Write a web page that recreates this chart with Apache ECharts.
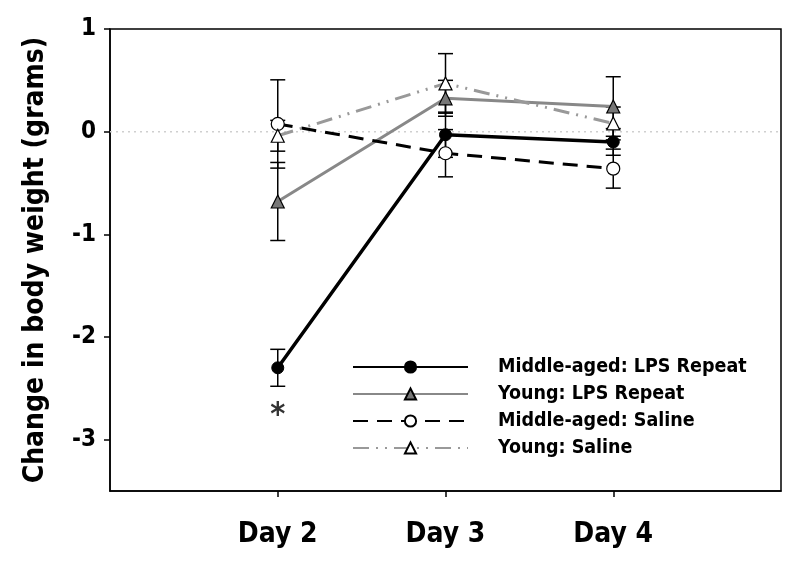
<!DOCTYPE html>
<html>
<head>
<meta charset="utf-8">
<script src="https://cdn.jsdelivr.net/npm/echarts@6/dist/echarts.min.js"></script>
<style>
html,body{margin:0;padding:0;background:#fff;}
#chart{width:800px;height:563px;}
</style>
</head>
<body>
<div id="chart"></div>
<script>
// ---- data ----
var days = [2, 3, 4];
var dayLabels = ['Day 2', 'Day 3', 'Day 4'];
var yTicks = [-3, -2, -1, 0, 1];
var xRange = [1, 5];
var zeroLevel = 0;

var midLPS = [-2.30, -0.03, -0.10];
var midLPSErr = [0.18, 0.22, 0.13];

var youngLPS = [-0.68, 0.325, 0.245];
var youngLPSErr = [0.38, 0.175, 0.29];

var midSaline = [0.075, -0.21, -0.36];
var midSalineErr = [0.43, 0.23, 0.19];

var youngSaline = [-0.04, 0.47, 0.08];
var youngSalineErr = [0.15, 0.29, 0.16];

var seriesNames = ['Middle-aged: LPS Repeat', 'Young: LPS Repeat', 'Middle-aged: Saline', 'Young: Saline'];

var starPoint = [2, -2.77];
var starText = '*';

// ---- build chart ----
var FONT = '"DejaVu Sans Condensed", "DejaVu Sans", sans-serif';
function pts(vals) { return days.map(function (d, i) { return [d, vals[i]]; }); }
function errData(vals, errs) { return days.map(function (d, i) { return [d, vals[i], errs[i]]; }); }

function errSeries(vals, errs) {
  return {
    type: 'custom',
    silent: true,
    z: 1,
    data: errData(vals, errs),
    renderItem: function (params, api) {
      var x = api.value(0), m = api.value(1), e = api.value(2);
      var hi = api.coord([x, m + e]);
      var lo = api.coord([x, m - e]);
      var hw = 7.5;
      var st = { stroke: '#000', lineWidth: 1.5 };
      return {
        type: 'group',
        children: [
          { type: 'line', shape: { x1: hi[0], y1: hi[1], x2: lo[0], y2: lo[1] }, style: st },
          { type: 'line', shape: { x1: hi[0] - hw, y1: hi[1], x2: hi[0] + hw, y2: hi[1] }, style: st },
          { type: 'line', shape: { x1: lo[0] - hw, y1: lo[1], x2: lo[0] + hw, y2: lo[1] }, style: st }
        ]
      };
    }
  };
}

var chart = echarts.init(document.getElementById('chart'), null, { renderer: 'canvas' });

var option = {
  animation: false,
  backgroundColor: '#fff',
  grid: {
    left: 110, right: 19, top: 29, bottom: 72,
    show: true, borderColor: '#000', borderWidth: 1.5, backgroundColor: 'transparent'
  },
  legend: {
    data: seriesNames,
    orient: 'vertical',
    left: 347,
    top: 352,
    itemWidth: 115,
    itemHeight: 14,
    itemGap: 7,
    textStyle: { fontFamily: FONT, fontWeight: 'bold', fontSize: 19.5, color: '#000', padding: [0, 0, 0, 25] },
    selectedMode: false
  },
  xAxis: {
    type: 'value',
    min: xRange[0], max: xRange[1],
    splitLine: { show: false },
    axisLine: { show: true, onZero: false, lineStyle: { color: '#000', width: 1.5 } },
    axisTick: { show: true, customValues: days, length: 6, lineStyle: { color: '#000', width: 1.5 } },
    axisLabel: {
      customValues: days,
      formatter: function (v) { var i = days.indexOf(v); return i >= 0 ? dayLabels[i] : ''; },
      fontFamily: FONT, fontWeight: 'bold', fontSize: 28, color: '#000', margin: 30
    }
  },
  yAxis: {
    type: 'value',
    min: -3.5, max: 1,
    name: 'Change in body weight (grams)',
    nameLocation: 'middle',
    nameGap: 60,
    nameTextStyle: { fontFamily: FONT, fontWeight: 'bold', fontSize: 28, color: '#000' },
    splitLine: { show: false },
    axisLine: { show: true, onZero: false, lineStyle: { color: '#000', width: 1.5 } },
    axisTick: { show: true, customValues: yTicks, length: 6, lineStyle: { color: '#000', width: 1.5 } },
    axisLabel: {
      customValues: yTicks,
      fontFamily: FONT, fontWeight: 'bold', fontSize: 24, color: '#000', margin: 14
    }
  },
  series: [
    {
      type: 'line', silent: true, z: 0,
      data: [[xRange[0], zeroLevel], [xRange[1], zeroLevel]],
      symbol: 'none',
      lineStyle: { color: '#cfcfcf', type: [2, 4], width: 1.5 }
    },
    errSeries(midLPS, midLPSErr),
    errSeries(youngLPS, youngLPSErr),
    errSeries(midSaline, midSalineErr),
    errSeries(youngSaline, youngSalineErr),
    {
      name: seriesNames[0], type: 'line', z: 5, data: pts(midLPS),
      symbol: 'circle', symbolSize: 12,
      lineStyle: { color: '#000', width: 3.5 },
      itemStyle: { color: '#000', borderColor: '#000', borderWidth: 1 }
    },
    {
      name: seriesNames[1], type: 'line', z: 4, data: pts(youngLPS),
      symbol: 'triangle', symbolSize: 13,
      lineStyle: { color: '#888', width: 3 },
      itemStyle: { color: '#777', borderColor: '#000', borderWidth: 1.2 }
    },
    {
      name: seriesNames[2], type: 'line', z: 4, data: pts(midSaline),
      symbol: 'circle', symbolSize: 13,
      lineStyle: { color: '#000', width: 3, type: [15, 9] },
      itemStyle: { color: '#fff', borderColor: '#000', borderWidth: 1.2 }
    },
    {
      name: seriesNames[3], type: 'line', z: 4, data: pts(youngSaline),
      symbol: 'triangle', symbolSize: 13,
      lineStyle: { color: '#999', width: 3, type: [16, 7, 2, 7, 2, 7] },
      itemStyle: { color: '#fff', borderColor: '#000', borderWidth: 1.2 }
    },
    {
      type: 'scatter', silent: true, z: 6,
      data: [starPoint],
      symbolSize: 1,
      itemStyle: { color: 'transparent' },
      label: {
        show: true, position: 'inside', formatter: starText,
        fontFamily: FONT, fontWeight: 'bold', fontSize: 32, color: '#000'
      }
    }
  ]
};
chart.setOption(option);
</script>
</body>
</html>
